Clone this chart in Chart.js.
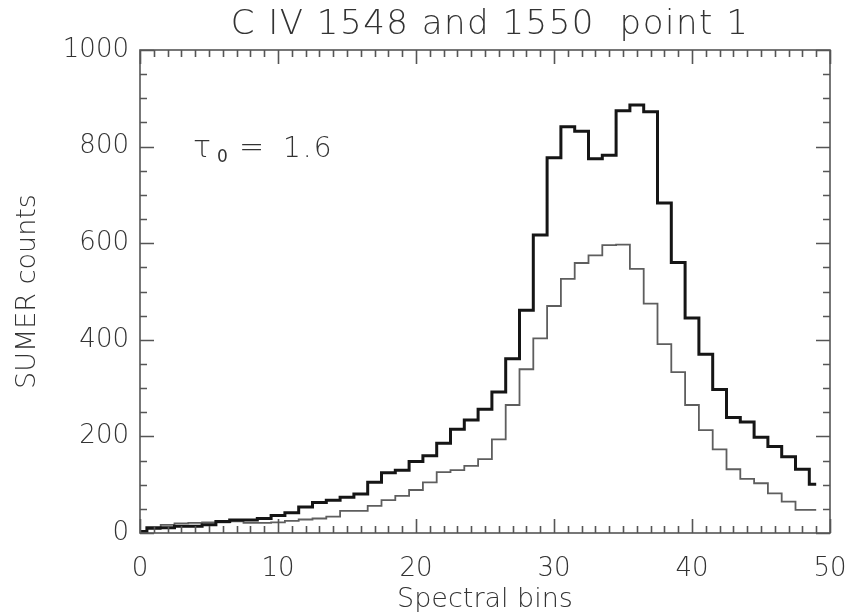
<!DOCTYPE html>
<html>
<head>
<meta charset="utf-8">
<script src="https://cdn.jsdelivr.net/npm/chart.js@4"></script>
<style>
  html, body { margin: 0; padding: 0; background: #fff; }
  #wrap { width: 853px; height: 616px; }
</style>
</head>
<body>
<div id="wrap"><canvas id="myChart" width="853" height="616"></canvas></div>
<script>
// spectral bin numbers
const bins = [0, 1, 2, 3, 4, 5, 6, 7, 8, 9, 10, 11, 12, 13, 14, 15, 16, 17, 18, 19,
  20, 21, 22, 23, 24, 25, 26, 27, 28, 29, 30, 31, 32, 33, 34, 35, 36, 37, 38, 39,
  40, 41, 42, 43, 44, 45, 46, 47, 48, 49];

// observed profile (thick line)
const observed = [3, 11, 11, 14, 14, 17, 24, 27, 27, 30, 36, 42, 54, 63, 68, 74, 81, 105, 125, 130,
  148, 160, 186, 215, 234, 256, 292, 361, 461, 617, 777, 841, 832, 775, 782, 874, 886, 872, 683, 560,
  445, 370, 297, 239, 230, 198, 179, 158, 132, 101];

// second profile (thin line)
const thinLine = [2, 8, 17, 20, 21, 22, 22, 24, 21, 21, 22, 25, 28, 30, 34, 46, 46, 56, 68, 77,
  89, 105, 126, 130, 139, 153, 194, 265, 339, 403, 470, 526, 559, 575, 596, 597, 547, 475, 391, 333,
  265, 213, 173, 132, 112, 103, 82, 65, 48, 48];

const xTicks = [0, 10, 20, 30, 40, 50];
const yTicks = [0, 200, 400, 600, 800, 1000];

const FONT = '"DejaVu Sans", sans-serif';
const INK = '#333';

const toPoints = (vals) => bins.map((b, i) => ({ x: b, y: vals[i] }));

// frame + IDL style inward ticks on all four sides, title and annotation
const idlFrame = {
  id: 'idlFrame',
  afterDatasetsDraw(chart) {
    const { ctx, chartArea: a, scales: { x, y } } = chart;
    ctx.save();
    ctx.strokeStyle = '#555';
    ctx.lineWidth = 1.6;
    ctx.strokeRect(a.left, a.top, a.right - a.left, a.bottom - a.top);

    ctx.beginPath();
    for (let v = 0; v <= 50; v++) {
      const px = Math.round(x.getPixelForValue(v)) + 0.5;
      const len = v % 10 === 0 ? 14 : 7;
      ctx.moveTo(px, a.bottom); ctx.lineTo(px, a.bottom - len);
      ctx.moveTo(px, a.top); ctx.lineTo(px, a.top + len);
    }
    for (let v = 0; v <= 1000; v += 50) {
      const py = Math.round(y.getPixelForValue(v)) + 0.5;
      const len = v % 200 === 0 ? 14 : 7;
      ctx.moveTo(a.left, py); ctx.lineTo(a.left + len, py);
      ctx.moveTo(a.right, py); ctx.lineTo(a.right - len, py);
    }
    ctx.stroke();

    // title
    ctx.fillStyle = INK;
    ctx.font = '200 34px ' + FONT;
    ctx.letterSpacing = '1.5px';
    ctx.textAlign = 'center';
    ctx.textBaseline = 'alphabetic';
    ctx.fillText('C IV 1548 and 1550  point 1', (a.left + a.right) / 2 + 5, 34);

    // tau annotation
    const tx = x.getPixelForValue(3.84);
    const ty = y.getPixelForValue(778);
    ctx.textAlign = 'left';
    ctx.letterSpacing = '0px';
    ctx.font = '200 30px ' + FONT;
    ctx.fillText('τ', tx, ty);
    ctx.font = '17px ' + FONT;
    ctx.fillText('0', tx + 24, ty + 5);
    ctx.font = '200 30px ' + FONT;
    ctx.fillText('=', tx + 46, ty);
    ctx.font = '200 28px ' + FONT;
    ctx.letterSpacing = '2px';
    ctx.fillText('1.6', tx + 90, ty);
    ctx.restore();
  }
};

const ctx = document.getElementById('myChart').getContext('2d');

const myChart = new Chart(ctx, {
  type: 'line',
  data: {
    datasets: [
      {
        label: 'observed',
        data: toPoints(observed),
        borderColor: '#151515',
        borderWidth: 3,
        stepped: 'middle',
        pointRadius: 0,
        fill: false,
      },
      {
        label: 'thin',
        data: toPoints(thinLine),
        borderColor: '#5e5e5e',
        borderWidth: 1.8,
        stepped: 'middle',
        pointRadius: 0,
        fill: false,
      }
    ]
  },
  options: {
    responsive: false,
    animation: false,
    layout: { padding: { top: 50, right: 23, bottom: 0, left: 0 } },
    plugins: {
      legend: { display: false },
      tooltip: { enabled: false },
      title: { display: false },
    },
    scales: {
      x: {
        type: 'linear',
        min: 0,
        max: 50,
        grid: { display: false, drawTicks: false },
        border: { display: false },
        afterBuildTicks: (s) => { s.ticks = xTicks.map(v => ({ value: v })); },
        afterFit: (s) => { s.height = 83; s.paddingLeft = 0; s.paddingRight = 0; },
        ticks: {
          padding: 21,
          maxRotation: 0,
          color: INK,
          font: { family: FONT, size: 26, weight: 200 },
          callback: (v) => String(v),
        },
        title: {
          display: true,
          text: 'Spectral bins',
          color: INK,
          font: { family: FONT, size: 27, weight: 200 },
          padding: { top: 0, bottom: 0 },
        }
      },
      y: {
        type: 'linear',
        min: 0,
        max: 1000,
        grid: { display: false, drawTicks: false },
        border: { display: false },
        afterBuildTicks: (s) => { s.ticks = yTicks.map(v => ({ value: v })); },
        afterFit: (s) => { s.width = 140; s.paddingTop = 0; s.paddingBottom = 0; },
        ticks: {
          padding: 11,
          color: INK,
          font: { family: FONT, size: 26, weight: 200 },
          callback: (v) => String(v),
        },
        title: {
          display: true,
          text: 'SUMER counts',
          color: INK,
          font: { family: FONT, size: 27, weight: 200 },
          padding: { top: 12, bottom: 0 },
        }
      }
    }
  },
  plugins: [idlFrame]
});
</script>
</body>
</html>
